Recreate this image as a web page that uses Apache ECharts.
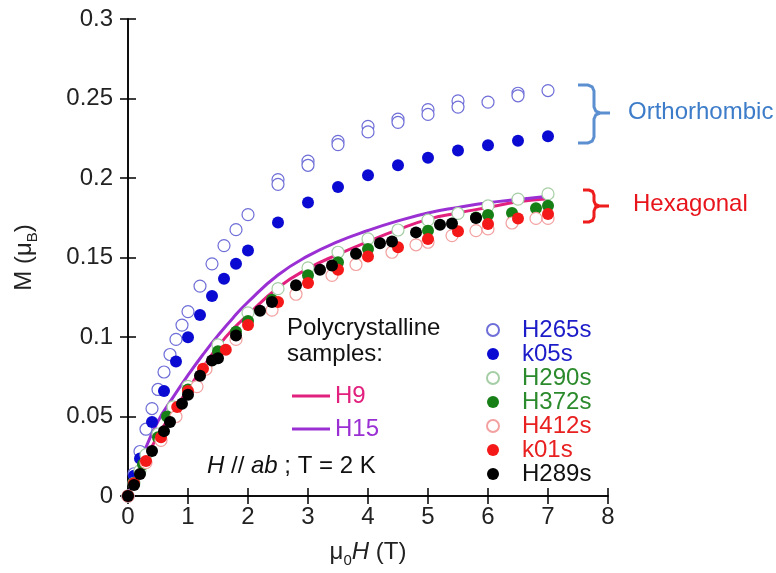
<!DOCTYPE html>
<html><head><meta charset="utf-8">
<script src="https://cdn.jsdelivr.net/npm/echarts@6/dist/echarts.min.js"></script>
<style>html,body{margin:0;padding:0;background:#fff}#c{width:776px;height:573px}</style>
</head><body><div id="c"></div>
<script>
// ---- data ----
const xTicks = [0,1,2,3,4,5,6,7,8];
const yTicks = [0,0.05,0.1,0.15,0.2,0.25,0.3];

const H265s = [[0,0],[0.1,0.014],[0.2,0.028],[0.3,0.042],[0.4,0.055],[0.5,0.067],[0.6,0.078],[0.7,0.089],[0.8,0.0985],[0.9,0.1075],[1.0,0.116],[1.2,0.132],[1.4,0.146],[1.6,0.1575],[1.8,0.1675],[2.0,0.177],[2.5,0.199],[2.5,0.196],[3,0.2106],[3,0.208],[3.5,0.223],[3.5,0.221],[4,0.2325],[4,0.229],[4.5,0.237],[4.5,0.235],[5,0.243],[5,0.240],[5.5,0.2485],[5.5,0.2446],[6,0.2477],[6.5,0.2533],[6.5,0.2517],[7,0.255]];
const k05s = [[0,0],[0.1,0.0127],[0.2,0.0236],[0.4,0.0466],[0.6,0.066],[0.8,0.0846],[1.0,0.0998],[1.2,0.1138],[1.4,0.1258],[1.6,0.1367],[1.8,0.146],[2.0,0.1544],[2.5,0.172],[3,0.1846],[3.5,0.1944],[4,0.2017],[4.5,0.208],[5,0.2127],[5.5,0.2173],[6,0.2206],[6.5,0.2235],[7,0.2262]];
const H290s = [[0,0],[0.1,0.008],[0.2,0.016],[0.3,0.026],[0.5,0.039],[0.75,0.056],[1.0,0.069],[1.5,0.095],[2,0.1152],[2.5,0.1304],[3,0.1435],[3.5,0.1533],[4,0.1617],[4.5,0.1673],[5,0.1735],[5.5,0.1777],[6,0.1825],[6.5,0.1867],[7,0.19]];
const H372s = [[0,0],[0.1,0.008],[0.25,0.02],[0.5,0.037],[0.65,0.05],[1.0,0.067],[1.5,0.091],[1.8,0.1033],[2.0,0.110],[2.4,0.1235],[3,0.1388],[3.5,0.147],[4,0.1554],[5,0.1669],[5.8,0.1752],[6,0.1767],[6.4,0.178],[6.8,0.181],[7,0.1825]];
const H412s = [[0,0],[0.3,0.021],[0.55,0.035],[0.8,0.05],[1.15,0.0688],[1.3,0.0798],[1.8,0.0985],[2.4,0.1169],[2.8,0.1269],[3.4,0.1388],[3.8,0.1456],[4.4,0.1533],[4.8,0.158],[5,0.1596],[5.4,0.1638],[5.8,0.1669],[6,0.168],[6.4,0.1717],[6.8,0.1746],[7,0.1746]];
const k01s = [[0,0],[0.1,0.008],[0.3,0.022],[0.55,0.037],[0.82,0.056],[1.0,0.066],[1.25,0.08],[1.63,0.092],[2,0.1075],[2.5,0.122],[3,0.134],[3.5,0.1423],[4,0.1506],[4.5,0.1564],[5,0.1617],[5.5,0.1665],[6,0.171],[6.5,0.1746],[7,0.1773]];
const H289s = [[0,0],[0.1,0.0069],[0.2,0.0138],[0.4,0.0283],[0.6,0.0408],[0.7,0.0465],[0.9,0.058],[1.0,0.0637],[1.2,0.0756],[1.4,0.0852],[1.5,0.0867],[1.8,0.101],[2.2,0.1165],[2.4,0.122],[2.8,0.1325],[3.2,0.1423],[3.4,0.145],[3.8,0.1523],[4.2,0.159],[4.4,0.160],[4.8,0.1658],[5.2,0.1706],[5.4,0.1714],[5.8,0.1748]];

const fitX = [0,0.25,0.5,0.75,1,1.25,1.5,1.75,2,2.5,3,3.5,4,4.5,5,5.5,6,6.5,7];
const H9  = [0,0.020,0.038,0.053,0.067,0.081,0.094,0.105,0.114,0.131,0.143,0.152,0.160,0.1675,0.174,0.178,0.1815,0.185,0.187];
const H15 = [0,0.026,0.047,0.062,0.076,0.089,0.101,0.112,0.122,0.139,0.151,0.160,0.167,0.173,0.178,0.1815,0.1845,0.1865,0.1885];

// ---- styles ----
const FONT = '"Liberation Sans", Arial, sans-serif';
const FS = 24;
const scatterDefs = [
  {name:'H265s', data:H265s, open:true, color:'#6e6ed8', text:'#1c1cc8'},
  {name:'k05s',  data:k05s,  open:false, color:'#0a0ad2', text:'#1c1cc8'},
  {name:'H290s', data:H290s, open:true, color:'#a6cea6', text:'#2b8a2b'},
  {name:'H372s', data:H372s, open:false, color:'#167f16', text:'#2b8a2b'},
  {name:'H412s', data:H412s, open:true, color:'#f3a0a0', text:'#e82020'},
  {name:'k01s',  data:k01s,  open:false, color:'#f41818', text:'#e82020'},
  {name:'H289s', data:H289s, open:false, color:'#000000', text:'#111111'}
];
const lineDefs = [
  {name:'H9', data:H9, color:'#e2207e'},
  {name:'H15', data:H15, color:'#9a2fd4'}
];

const series = [];
lineDefs.forEach(d => series.push({
  name:d.name, type:'line', data: fitX.map((x,i)=>[x,d.data[i]]), smooth:true,
  showSymbol:false, symbol:'none', lineStyle:{color:d.color, width:3}, itemStyle:{color:d.color}, z:2
}));
scatterDefs.forEach(d => series.push({
  name:d.name, type:'scatter', data:d.data, symbol:'circle', symbolSize:12, z:3,
  itemStyle: d.open ? {color:'#ffffff', borderColor:d.color, borderWidth:1.2, opacity:1} : {color:d.color, borderWidth:0, opacity:1}
}));

// brace helper (annotation shape, pixel units)
function brace(xl, xs, xt, yt, ym, yb, r) {
  return [[xl,yt],[xs-r,yt],[xs-r*0.3,yt+r*0.3],[xs,yt+r],[xs,ym-r],[xs+r*0.3,ym-r*0.3],[xs+r,ym],[xt,ym],
          [xs+r,ym],[xs+r*0.3,ym+r*0.3],[xs,ym+r],[xs,yb-r],[xs-r*0.3,yb-r*0.3],[xs-r,yb],[xl,yb]];
}

const tickStyle = {color:'#000', width:1.5};
const chart = echarts.init(document.getElementById('c'));
chart.setOption({
  animation:false,
  backgroundColor:'#fff',
  textStyle:{fontFamily:FONT},
  grid:{left:128, right:168, top:19, bottom:76},
  xAxis:[
    {type:'value', min:0, max:8, interval:1, position:'bottom',
     axisLine:{lineStyle:tickStyle}, axisTick:{inside:false, length:8, lineStyle:tickStyle},
     splitLine:{show:false},
     axisLabel:{color:'#222', fontSize:FS, margin:9, fontFamily:FONT},
     name:'{a|μ}{sub|0}{i|H}{a| (T)}', nameLocation:'middle', nameGap:41,
     nameTextStyle:{rich:{
       a:{fontSize:FS, color:'#222', fontFamily:FONT},
       i:{fontSize:FS, color:'#222', fontStyle:'italic', fontFamily:FONT},
       sub:{fontSize:15, color:'#222', fontFamily:FONT, padding:[16,0,0,0]}
     }}},
    {type:'value', min:0, max:8, interval:1, position:'top',
     axisLine:{lineStyle:tickStyle}, axisTick:{inside:false, length:8, lineStyle:tickStyle},
     axisLabel:{show:false}, splitLine:{show:false}}
  ],
  yAxis:[
    {type:'value', min:0, max:0.3, interval:0.05, position:'left',
     axisLine:{lineStyle:tickStyle}, axisTick:{inside:true, length:8, lineStyle:tickStyle},
     splitLine:{show:false},
     axisLabel:{color:'#222', fontSize:FS, margin:15, fontFamily:FONT, formatter:v=>String(+v.toFixed(2))},
     name:'{a|M (μ}{sub|B}{a|)}', nameLocation:'middle', nameGap:88, nameRotate:90,
     nameTextStyle:{rich:{
       a:{fontSize:FS, color:'#222', fontFamily:FONT},
       sub:{fontSize:15, color:'#222', fontFamily:FONT, padding:[16,0,0,0]}
     }}},
    {type:'value', min:0, max:0.3, interval:0.05, position:'right',
     axisLine:{lineStyle:tickStyle}, axisTick:{inside:true, length:8, lineStyle:tickStyle},
     axisLabel:{show:false}, splitLine:{show:false}}
  ],
  legend:[
    {orient:'vertical', left:481, top:313, itemWidth:48, itemHeight:12, itemGap:0, icon:'circle',
     textStyle:{fontSize:FS, fontFamily:FONT},
     data: scatterDefs.map(d=>({name:d.name, textStyle:{color:d.text}})), selectedMode:false},
    {orient:'vertical', left:287, top:379, itemWidth:38, itemHeight:3, itemGap:9, icon:'rect',
     textStyle:{fontSize:FS, fontFamily:FONT},
     data: lineDefs.map(d=>({name:d.name, textStyle:{color:d.color}})), selectedMode:false}
  ],
  graphic:[
    {type:'text', left:287, top:315, style:{text:'Polycrystalline\nsamples:', font:FS+'px '+FONT, fill:'#111', lineHeight:26}},
    {type:'text', left:207, top:454, style:{
      text:'{i|H} {a|// }{i|ab}{a| ; T = 2 K}', font:FS+'px '+FONT, fill:'#111',
      rich:{a:{fontSize:FS, fontFamily:FONT, fill:'#111'}, i:{fontSize:FS, fontStyle:'italic', fontFamily:FONT, fill:'#111'}}}},
    {type:'polyline', shape:{points:brace(578,594,610,85,113,143,6)}, style:{fill:null, stroke:'#5b8fd0', lineWidth:3}},
    {type:'polyline', shape:{points:brace(583,594,609,190,206,222,5)}, style:{fill:null, stroke:'#ee1c1c', lineWidth:3}},
    {type:'text', left:628, top:100, style:{text:'Orthorhombic', font:FS+'px '+FONT, fill:'#3d7cc9'}},
    {type:'text', left:633, top:192, style:{text:'Hexagonal', font:FS+'px '+FONT, fill:'#e8141c'}}
  ],
  series: series
});
</script></body></html>
